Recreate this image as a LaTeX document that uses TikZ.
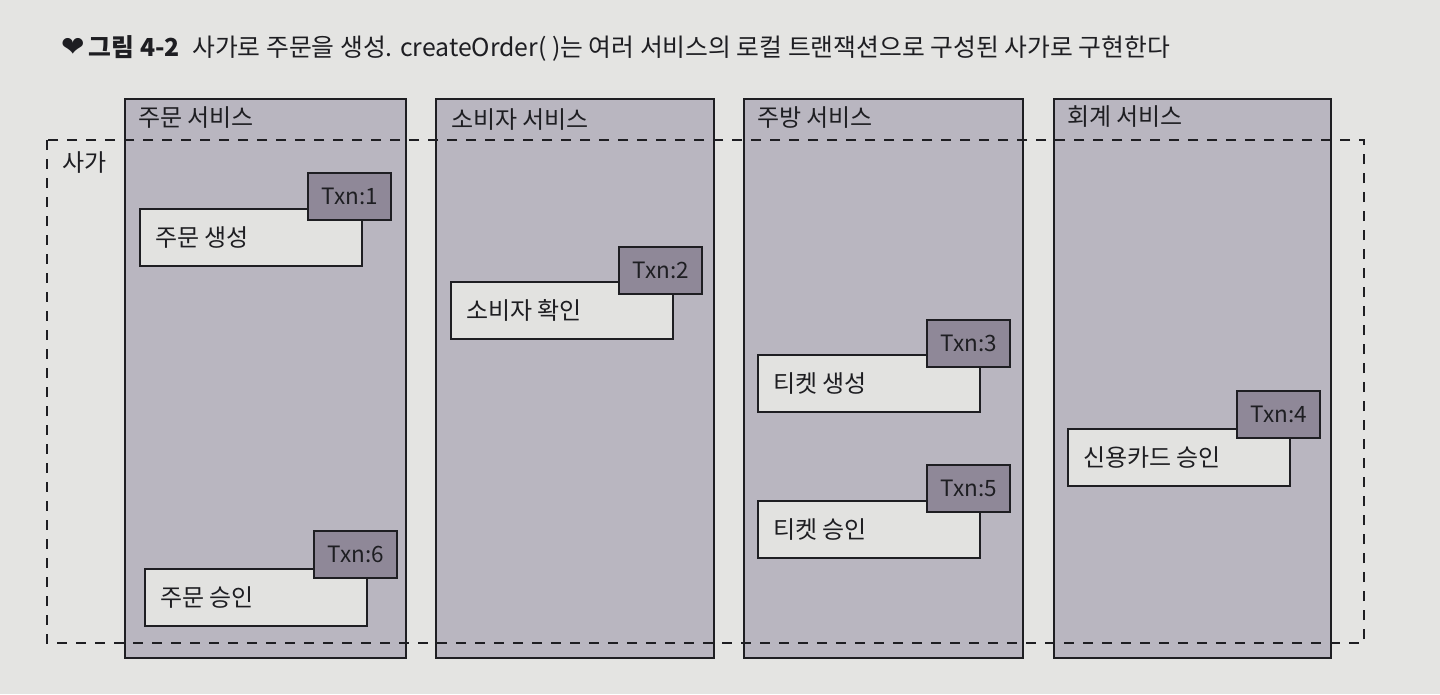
\documentclass[tikz,border=0pt]{standalone}
\usepackage{fontspec}
\setmainfont{Noto Sans CJK KR}
\newfontfamily\symfont{DejaVu Sans}
\usetikzlibrary{calc}
\definecolor{pagebg}{HTML}{E4E4E2}
\definecolor{colfill}{HTML}{B9B6C0}
\definecolor{txnfill}{HTML}{8F8898}
\definecolor{boxfill}{HTML}{E2E2E0}
\definecolor{ink}{HTML}{1E1E22}
\begin{document}
\begin{tikzpicture}[x=1pt,y=-1pt,
  svc/.style={draw=ink, line width=1.8pt, fill=colfill, inner sep=0pt, anchor=north west},
  saga/.style={draw=ink, line width=1.8pt, dash pattern=on 10pt off 9pt},
  wbox/.style={draw=ink, line width=2.2pt, fill=boxfill, inner sep=0pt, anchor=north west, minimum width=222pt, minimum height=57pt},
  txn/.style={draw=ink, line width=2.2pt, fill=txnfill, inner sep=0pt, anchor=north west, minimum width=83pt, minimum height=47pt, text=ink, font=\fontsize{22.5}{26}\selectfont},
  lbl/.style={anchor=west, inner sep=0pt, text=ink, font=\fontsize{24}{28}\selectfont},
]
\fill[pagebg] (0,0) rectangle (1440,694);
\useasboundingbox (0,0) rectangle (1440,694);

% title
\node[anchor=west, inner sep=0pt, text=ink, font=\fontsize{24.8}{28}\selectfont] (title) at (61,48)
  {{\symfont\fontsize{28}{30}\selectfont ❤}\,{\bfseries 그림 4-2}\enspace 사가로 주문을 생성. createOrder( )는 여러 서비스의 로컬 트랜잭션으로 구성된 사가로 구현한다};

% service columns
\node[svc, minimum width=281pt, minimum height=559pt] (c1) at (124,98) {};
\node[svc, minimum width=278pt, minimum height=559pt] (c2) at (435,98) {};
\node[svc, minimum width=279pt, minimum height=559pt] (c3) at (743,98) {};
\node[svc, minimum width=277pt, minimum height=559pt] (c4) at (1053,98) {};
\node[lbl] (c1l) at (138,118) {주문 서비스};
\node[lbl] (c2l) at (451,120) {소비자 서비스};
\node[lbl] (c3l) at (757,118) {주방 서비스};
\node[lbl] (c4l) at (1067,117) {회계 서비스};

% saga boundary
\coordinate (sagaNW) at (47,140);
\coordinate (sagaSE) at (1364,643);
\draw[saga] (sagaNW) rectangle (sagaSE);
\node[lbl] (sagal) at (62,163) {사가};

% local transactions
\node[wbox] (b1) at (139,208) {};
\node[txn] (t1) at ($(b1.north east)+(-56,-36)$) {Txn:1};
\node[lbl] at ($(b1.west)+(16,0)$) {주문 생성};

\node[wbox] (b2) at (450,281) {};
\node[txn] (t2) at ($(b2.north east)+(-56,-35)$) {Txn:2};
\node[lbl] at ($(b2.west)+(16,0)$) {소비자 확인};

\node[wbox] (b3) at (757,354) {};
\node[txn] (t3) at ($(b3.north east)+(-55,-35)$) {Txn:3};
\node[lbl] at ($(b3.west)+(16,0)$) {티켓 생성};

\node[wbox] (b4) at (1067,428) {};
\node[txn] (t4) at ($(b4.north east)+(-55,-38)$) {Txn:4};
\node[lbl] at ($(b4.west)+(16,0)$) {신용카드 승인};

\node[wbox] (b5) at (757,500) {};
\node[txn] (t5) at ($(b5.north east)+(-55,-36)$) {Txn:5};
\node[lbl] at ($(b5.west)+(16,0)$) {티켓 승인};

\node[wbox] (b6) at (144,568) {};
\node[txn] (t6) at ($(b6.north east)+(-55,-38)$) {Txn:6};
\node[lbl] at ($(b6.west)+(16,0)$) {주문 승인};
\end{tikzpicture}
\end{document}
